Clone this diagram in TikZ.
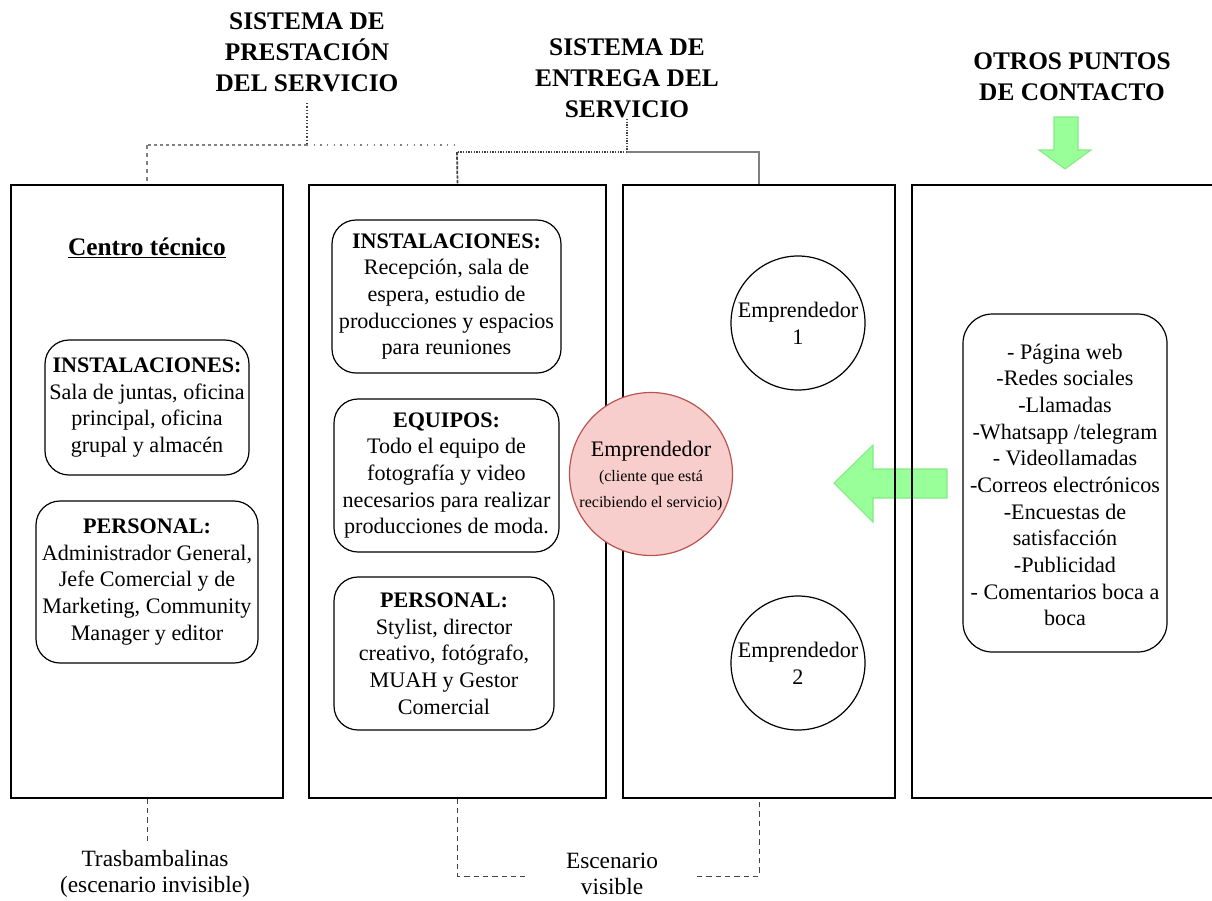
\documentclass[tikz,border=0pt]{standalone}
\usepackage{fontspec}
\setmainfont{Liberation Serif}
\definecolor{redfill}{HTML}{F8CECC}
\definecolor{redline}{HTML}{B85450}
\definecolor{greenfill}{HTML}{99FF99}
\definecolor{greenline}{HTML}{85EC85}
\definecolor{conn}{HTML}{444444}
\begin{document}
\begin{tikzpicture}[x=0.75pt,y=-0.75pt,
  body/.style={font=\fontsize{16.6}{20}\selectfont, align=center, inner sep=0pt},
  titletext/.style={font=\bfseries\fontsize{19}{23.2}\selectfont, align=center, inner sep=0pt},
  labeltext/.style={font=\fontsize{17.5}{19}\selectfont, align=center, inner sep=0pt},
  panel/.style={draw, line width=1.1pt, minimum height=459.75pt, inner sep=0pt},
  rbox/.style={draw, line width=0.9pt, rounded corners=18pt, inner sep=0pt},
  circ/.style={circle, draw, line width=0.9pt, inner sep=0pt},
  garrow/.style={fill=greenfill, draw=greenline, line width=0.8pt},
  bottomdash/.style={draw=conn, line width=0.7pt, dash pattern=on 4pt off 3pt}
]
\useasboundingbox (0,0) rectangle (1212,900);

% green arrows (behind panels)
\draw[garrow] (834,483) -- (873,445) -- (873,469) -- (947,469) -- (947,498) -- (873,498) -- (873,522) -- cycle;
\draw[garrow] (1054,117) -- (1078,117) -- (1078,150) -- (1091,150) -- (1065,169) -- (1039,150) -- (1054,150) -- cycle;

% panels
\node[panel, minimum width=204pt] (b1) at (147,491.5) {};
\node[panel, minimum width=222.75pt] (b2) at (457.5,491.5) {};
\node[panel, minimum width=204pt] (b3) at (759,491.5) {};
\node[panel, minimum width=226.5pt] (b4) at (1063,491.5) {};

% titles
\node[titletext] (t1) at (307,52) {SISTEMA DE\\PRESTACIÓN\\DEL SERVICIO};
\node[titletext] (t2) at (627,78) {SISTEMA DE\\ENTREGA DEL\\SERVICIO};
\node[titletext] (t3) at (1072,77) {OTROS PUNTOS\\DE CONTACTO};

% top connectors
\coordinate (t1s) at (307,103);
\coordinate (j1) at (307,145);
\coordinate (j1l) at (147,145);
\coordinate (j1r) at (457,145);
\coordinate (t2s) at (627,119);
\coordinate (j2) at (627,152);
\coordinate (j2l) at (457,152);
\coordinate (j2r) at (759,152);
\draw[conn, line width=0.8pt, dash pattern=on 1pt off 1.5pt] (t1s) -- (j1);
\draw[gray, line width=0.8pt, dash pattern=on 2.5pt off 2pt] (j1) -- (j1l);
\draw[gray, line width=0.8pt, dash pattern=on 1pt off 4pt] (j1) -- (j1r);
\draw[gray, line width=0.8pt, dash pattern=on 3pt off 3pt] (j1l) -- (b1.north);
\draw[conn, line width=1.3pt, dash pattern=on 2.5pt off 1pt] (j2l) -- (b2.north);
\draw[conn, line width=0.8pt, dash pattern=on 1pt off 1pt] (t2s) -- (j2);
\draw[conn, line width=0.8pt, dash pattern=on 1pt off 1pt] (j2) -- (j2l);
\draw[gray, line width=0.8pt] (j2) -- (j2r) -- (b3.north);

% panel 1
\node[font=\bfseries\fontsize{19}{23}\selectfont, inner sep=0pt] (ct) at (147,248) {\underline{Centro técnico}};
\node[rbox, minimum width=153pt, minimum height=101.25pt] (inst1) at (147,407.5) {};
\node[body] (inst1t) at (inst1) {\textbf{INSTALACIONES:}\\Sala de juntas, oficina\\principal, oficina\\grupal y almacén};
\node[rbox, minimum width=166.5pt, minimum height=121.5pt] (pers1) at (147,582) {};
\node[body] (pers1t) at (pers1) {\textbf{PERSONAL:}\\Administrador General,\\Jefe Comercial y de\\Marketing, Community\\Manager y editor};

% panel 2
\node[rbox, minimum width=171.75pt, minimum height=114.75pt] (inst2) at (446.5,296.5) {};
\node[body] (inst2t) at (inst2) {\textbf{INSTALACIONES:}\\Recepción, sala de\\espera, estudio de\\producciones y espacios\\para reuniones};
\node[rbox, minimum width=168.75pt, minimum height=114.75pt] (equip) at (446.5,475.5) {};
\node[body] (equipt) at (equip) {\textbf{EQUIPOS:}\\Todo el equipo de\\fotografía y video\\necesarios para realizar\\producciones de moda.};
\node[rbox, minimum width=165pt, minimum height=114.75pt] (pers2) at (444,653.5) {};
\node[body] (pers2t) at (pers2) {\textbf{PERSONAL:}\\Stylist, director\\creativo, fotógrafo,\\MUAH y Gestor\\Comercial};

% panel 3
\node[circ, minimum size=100.5pt] (e1) at (798,323) {};
\node[body] (e1t) at (e1) {Emprendedor\\1};
\node[circ, minimum size=100.5pt] (e2) at (798,663) {};
\node[body] (e2t) at (e2) {Emprendedor\\2};
\node[circ, minimum size=122.25pt, fill=redfill, draw=redline] (red) at (651,474) {};
\node[body, font=\fontsize{16.6}{19}\selectfont] (redt) at (651,476) {Emprendedor\\{\fontsize{12}{19}\selectfont (cliente que está}\\{\fontsize{12}{19}\selectfont recibiendo el servicio)}};

% panel 4
\node[rbox, rounded corners=22pt, minimum width=153pt, minimum height=253.5pt] (cont) at (1065,483) {};
\node[body] (contt) at (1065,485) {- Página web\\-Redes sociales\\-Llamadas\\-Whatsapp /telegram\\- Videollamadas\\-Correos electrónicos\\-Encuestas de\\satisfacción\\-Publicidad\\- Comentarios boca a\\boca};

% bottom connectors and labels
\coordinate (bl) at (147,842);
\node[labeltext] (trasb) at (155,874) {Trasbambalinas\\(escenario invisible)};
\draw[bottomdash] (b1.south) -- (bl);
\node[labeltext] (esc) at (612,874) {Escenario\\visible};
\coordinate (c2) at (457.5,876);
\coordinate (c2e) at (525,876);
\coordinate (c3s) at (697,876);
\coordinate (c3) at (759,876);
\draw[bottomdash] (b2.south) -- (c2) -- (c2e);
\draw[bottomdash] (c3s) -- (c3) -- (b3.south);
\end{tikzpicture}
\end{document}
